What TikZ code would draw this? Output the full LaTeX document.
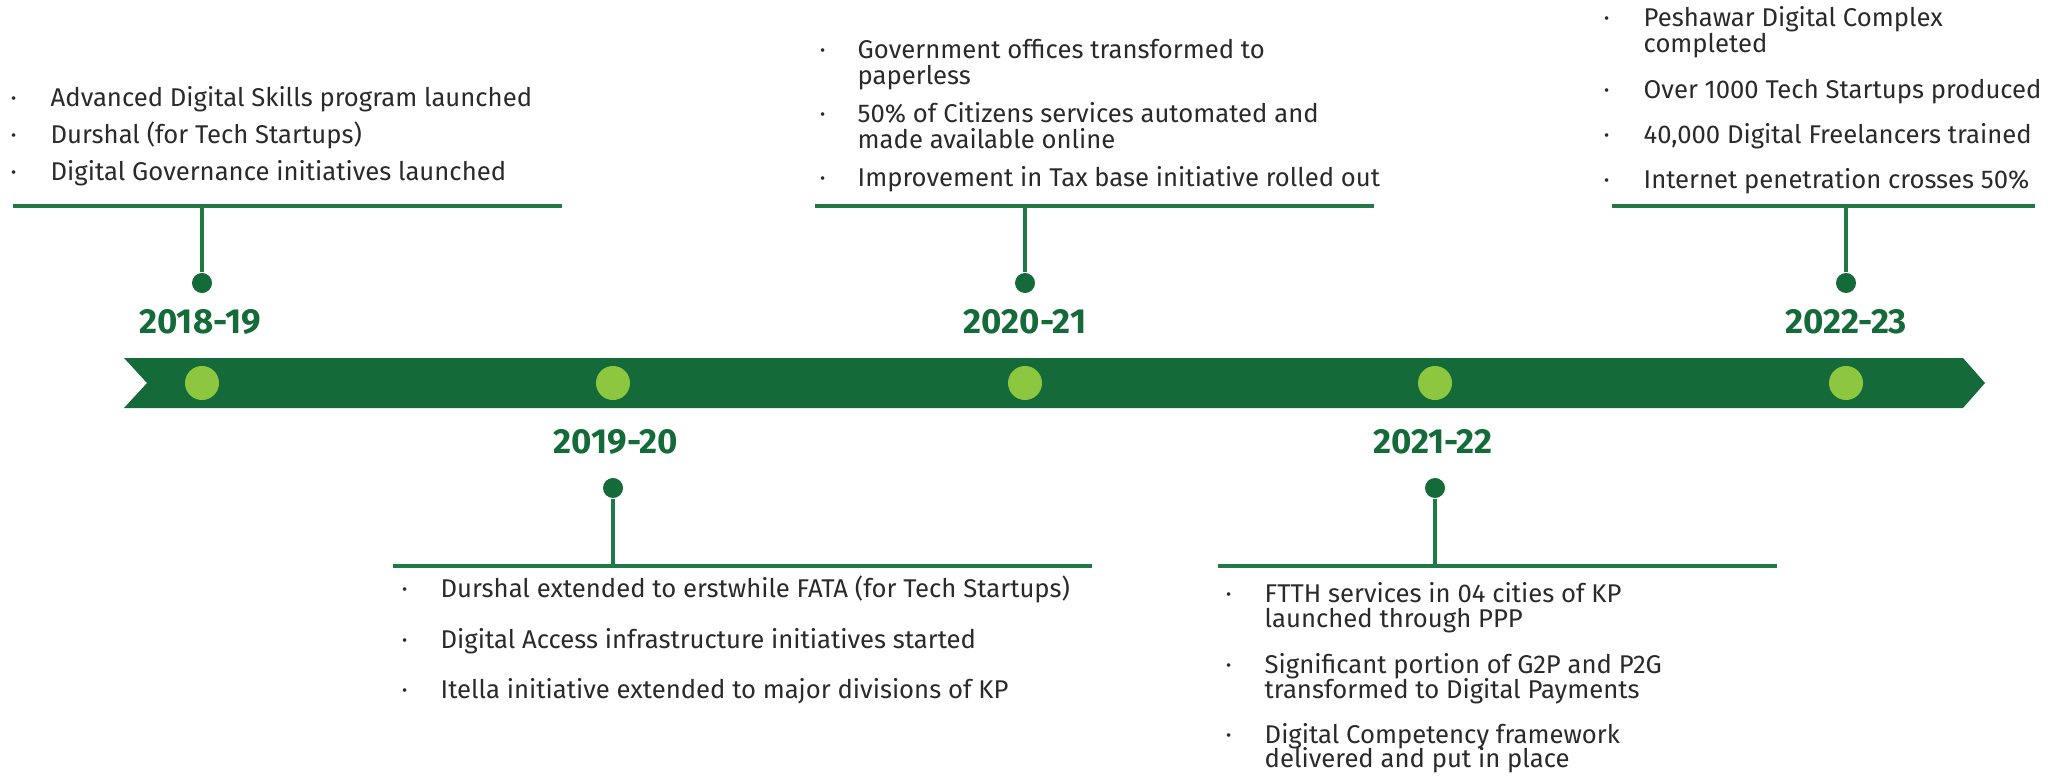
\documentclass[tikz,border=0pt]{standalone}
\usepackage{fontspec}
\setmainfont{Fira Sans}
\usetikzlibrary{positioning}
\definecolor{bandgreen}{HTML}{146A38}
\definecolor{limegreen}{HTML}{8DC63F}
\definecolor{linegreen}{HTML}{1F7A45}
\definecolor{bodytext}{HTML}{2A2A2A}
\tikzset{
   milestone/.style={circle, fill=limegreen, inner sep=0pt, minimum size=3.4mm},
   knob/.style={circle, fill=bandgreen, inner sep=0pt, minimum size=2mm},
   year/.style={inner sep=0pt, text=bandgreen, font=\fontsize{9.9}{10}\selectfont\bfseries},
   entry/.style={anchor=base west, inner sep=0pt, text=bodytext, font=\fontsize{7.3}{8}\selectfont},
   rule/.style={draw=linegreen, line width=0.9pt}
}

\begin{document}
\begin{tikzpicture}[x=0.01cm, y=-0.01cm]
      \useasboundingbox (0,0) rectangle (2072,776);

      % band
      \fill[bandgreen] (124,358) -- (1963,358) -- (1985,383) -- (1963,408)
         -- (124,408) -- (147,383) -- cycle;

      \node[milestone] (m1) at (202,383) {};
      \node[milestone] (m2) at (613,383) {};
      \node[milestone] (m3) at (1025,383) {};
      \node[milestone] (m4) at (1435,383) {};
      \node[milestone] (m5) at (1846,383) {};

      \node[year] (y1) at (200,322) {2018-19};
      \node[year] (y2) at (616,442) {2019-20};
      \node[year] (y3) at (1025,322) {2020-21};
      \node[year] (y4) at (1433,442) {2021-22};
      \node[year] (y5) at (1846,322) {2022-23};

      \node[knob] (d1) at (202,283) {};
      \node[knob] (d2) at (613,488) {};
      \node[knob] (d3) at (1025,283) {};
      \node[knob] (d4) at (1435,488) {};
      \node[knob] (d5) at (1846,283) {};

      % rules and stems
      \coordinate (f1) at (202,206);
      \coordinate (l1) at (13,206);
      \coordinate (r1) at (562,206);
      \coordinate (f2) at (613,566);
      \coordinate (l2) at (393,566);
      \coordinate (r2) at (1092,566);
      \coordinate (f3) at (1025,206);
      \coordinate (l3) at (815,206);
      \coordinate (r3) at (1374,206);
      \coordinate (f4) at (1435,566);
      \coordinate (l4) at (1218,566);
      \coordinate (r4) at (1777,566);
      \coordinate (f5) at (1846,206);
      \coordinate (l5) at (1612,206);
      \coordinate (r5) at (2035,206);

      \draw[rule] (l1) -- (r1);
      \draw[rule] (l2) -- (r2);
      \draw[rule] (l3) -- (r3);
      \draw[rule] (l4) -- (r4);
      \draw[rule] (l5) -- (r5);
      \draw[rule] (d1) -- (f1);
      \draw[rule] (d2) -- (f2);
      \draw[rule] (d3) -- (f3);
      \draw[rule] (d4) -- (f4);
      \draw[rule] (d5) -- (f5);

      % 2018-19
      \node[entry] (b1a) at (10,107) {\textperiodcentered};
      \node[entry] (t1a) at (50,107) {Advanced Digital Skills program launched};
      \node[entry] (b1b) at (10,144) {\textperiodcentered};
      \node[entry] (t1b) at (50,144) {Durshal (for Tech Startups)};
      \node[entry] (b1c) at (10,181) {\textperiodcentered};
      \node[entry] (t1c) at (50,181) {Digital Governance initiatives launched};

      % 2019-20
      \node[entry] (b2a) at (401,597) {\textperiodcentered};
      \node[entry] (t2a) at (440,597) {Durshal extended to erstwhile FATA (for Tech Startups)};
      \node[entry] (b2b) at (401,648) {\textperiodcentered};
      \node[entry] (t2b) at (440,648) {Digital Access infrastructure initiatives started};
      \node[entry] (b2c) at (401,698) {\textperiodcentered};
      \node[entry] (t2c) at (440,698) {Itella initiative extended to major divisions of KP};

      % 2020-21
      \node[entry] (b3a) at (819,59) {\textperiodcentered};
      \node[entry] (t3a) at (857,59) {Government offices transformed to};
      \node[entry] (t3b) at (857,85) {paperless};
      \node[entry] (b3c) at (819,123) {\textperiodcentered};
      \node[entry] (t3c) at (857,123) {50\% of Citizens services automated and};
      \node[entry] (t3d) at (857,149) {made available online};
      \node[entry] (b3e) at (819,187) {\textperiodcentered};
      \node[entry] (t3e) at (857,187) {Improvement in Tax base initiative rolled out};

      % 2021-22
      \node[entry] (b4a) at (1225,602) {\textperiodcentered};
      \node[entry] (t4a) at (1264,602) {FTTH services in 04 cities of KP};
      \node[entry] (t4b) at (1264,627) {launched through PPP};
      \node[entry] (b4c) at (1225,673) {\textperiodcentered};
      \node[entry] (t4c) at (1264,673) {Significant portion of G2P and P2G};
      \node[entry] (t4d) at (1264,698) {transformed to Digital Payments};
      \node[entry] (b4e) at (1225,743) {\textperiodcentered};
      \node[entry] (t4e) at (1264,743) {Digital Competency framework};
      \node[entry] (t4f) at (1264,767) {delivered and put in place};

      % 2022-23
      \node[entry] (b5a) at (1603,27) {\textperiodcentered};
      \node[entry] (t5a) at (1643,27) {Peshawar Digital Complex};
      \node[entry] (t5b) at (1643,53) {completed};
      \node[entry] (b5c) at (1603,99) {\textperiodcentered};
      \node[entry] (t5c) at (1643,99) {Over 1000 Tech Startups produced};
      \node[entry] (b5d) at (1603,144) {\textperiodcentered};
      \node[entry] (t5d) at (1643,144) {40,000 Digital Freelancers trained};
      \node[entry] (b5e) at (1603,189) {\textperiodcentered};
      \node[entry] (t5e) at (1643,189) {Internet penetration crosses 50\%};
\end{tikzpicture}
\end{document}
